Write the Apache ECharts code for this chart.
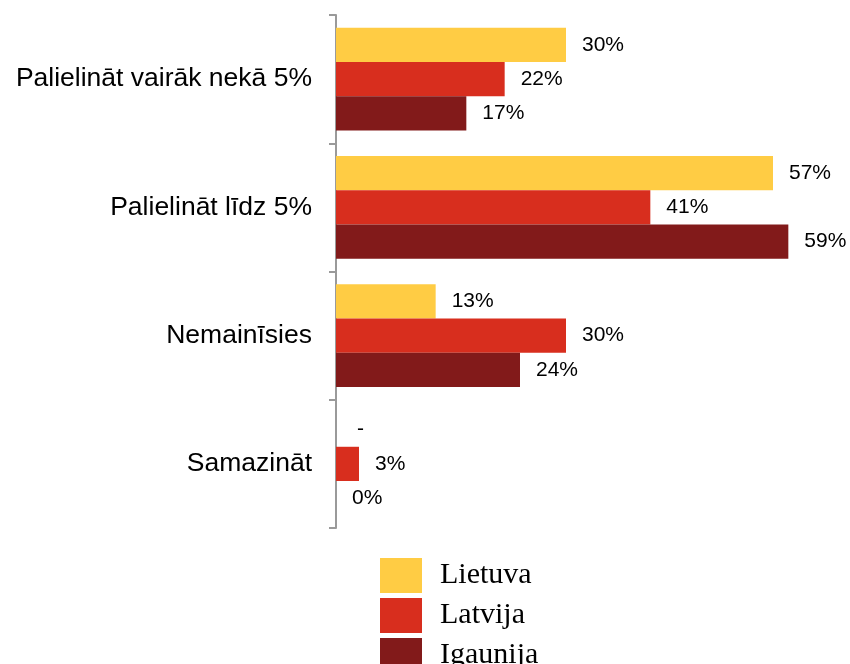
<!DOCTYPE html>
<html>
<head>
<meta charset="utf-8">
<script src="https://cdn.jsdelivr.net/npm/echarts@6/dist/echarts.min.js"></script>
<style>
  html, body { margin: 0; padding: 0; background: #fff; }
  #chart { width: 850px; height: 664px; }
</style>
</head>
<body>
<div id="chart"></div>
<script>
const categories = ['Palielināt vairāk nekā 5%', 'Palielināt līdz 5%', 'Nemainīsies', 'Samazināt']
const seriesNames = ['Lietuva', 'Latvija', 'Igaunija']
// null = no answer, shown as "-"
const lietuva = [30, 57, 13, null]
const latvija = [22, 41, 30, 3]
const igaunija = [17, 59, 24, 0]
const colors = ['#FFCC44', '#D82E1E', '#821A1A']

const toBarData = (values) => values.map((v) => {
  if (v === null) {
    return { value: 0, label: { formatter: '-', offset: [5, 0] } }
  }
  return v
})

const chart = echarts.init(document.getElementById('chart'))

chart.setOption({
  animation: false,
  grid: {
    left: 336,
    top: 15,
    width: 460,
    height: 513,
  },
  legend: {
    orient: 'vertical',
    left: 380,
    top: 558,
    height: 140,
    padding: 0,
    itemWidth: 42,
    itemHeight: 35,
    itemGap: 5,
    icon: 'rect',
    data: seriesNames,
    textStyle: {
      fontFamily: 'Liberation Serif',
      fontSize: 30,
      color: '#000',
      padding: [0, 0, 0, 13],
    },
  },
  xAxis: {
    type: 'value',
    min: 0,
    max: 60,
    show: false,
  },
  yAxis: {
    type: 'category',
    inverse: true,
    data: categories,
    axisLine: { lineStyle: { color: '#9a9a9a', width: 2 } },
    axisTick: { show: true, length: 7, lineStyle: { color: '#9a9a9a', width: 2 } },
    axisLabel: {
      margin: 24,
      fontFamily: 'Liberation Sans',
      fontSize: 26.5,
      color: '#000',
    },
  },
  series: [lietuva, latvija, igaunija].map((values, i) => ({
    name: seriesNames[i],
    type: 'bar',
    data: toBarData(values),
    color: colors[i],
    barGap: '0%',
    barCategoryGap: '20%',
    label: {
      show: true,
      position: 'right',
      distance: 16,
      formatter: '{c}%',
      fontFamily: 'Liberation Sans',
      fontSize: 21,
      color: '#000',
    },
  })),
})
</script>
</body>
</html>
